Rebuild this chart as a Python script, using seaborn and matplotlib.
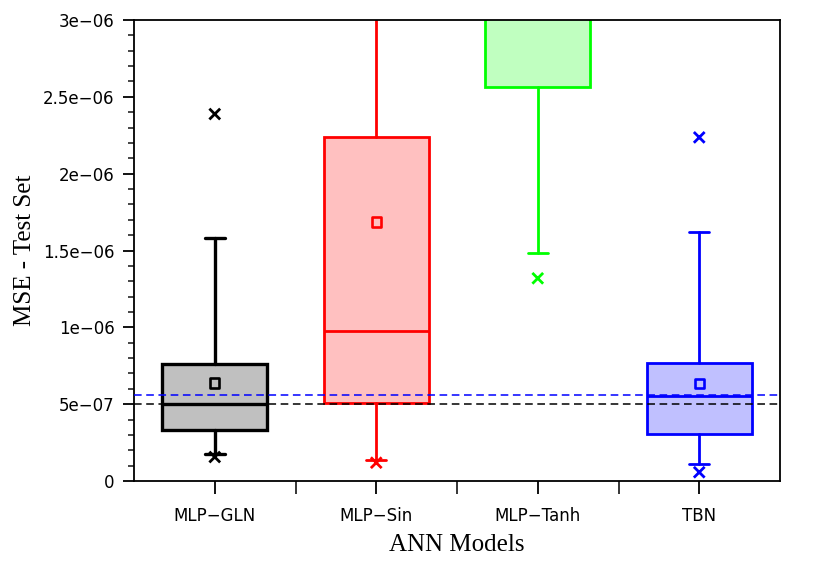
import numpy as np
import pandas as pd
import matplotlib.pyplot as plt
from matplotlib.ticker import AutoMinorLocator, FixedLocator
import seaborn as sns

# Box statistics (values above 3e-06 are hidden, estimated)
models = ['MLP−GLN', 'MLP−Sin', 'MLP−Tanh', 'TBN']
q1 = [0.332e-6, 0.505e-6, 2.566e-6, 0.306e-6]
medians = [0.501e-6, 0.976e-6, 3.60e-6, 0.555e-6]
q3 = [0.761e-6, 2.238e-6, 4.50e-6, 0.766e-6]
whis_lo = [0.176e-6, 0.137e-6, 1.482e-6, 0.111e-6]
whis_hi = [1.581e-6, 4.80e-6, 6.00e-6, 1.618e-6]
means = [0.638e-6, 1.685e-6, 3.90e-6, 0.636e-6]
mins = [0.156e-6, 0.119e-6, 1.319e-6, 0.057e-6]
maxs = [2.388e-6, 6.20e-6, 7.20e-6, 2.236e-6]

edge_colors = ['#000000', '#ff0000', '#00ff00', '#0000ff']
fill_colors = ['#c0c0c0', '#ffc0c0', '#c0ffc0', '#c0c0ff']

# reference dashed lines (GLN median, TBN median)
ref_values = [0.500e-6, 0.5595e-6]
ref_colors = ['#000000', '#0000ff']

ytick_vals = [0, 5e-7, 1e-6, 1.5e-6, 2e-6, 2.5e-6, 3e-6]
ytick_labels = ['0', '5e−07', '1e−06', '1.5e−06', '2e−06', '2.5e−06', '3e−06']

sns.set_theme(style='ticks')
plt.rcParams['font.family'] = ['DejaVu Sans']
plt.rcParams['axes.edgecolor'] = 'black'
plt.rcParams['axes.labelcolor'] = 'black'
plt.rcParams['text.color'] = 'black'
plt.rcParams['axes.linewidth'] = 1.3

fig = plt.figure(figsize=(8.3, 5.76), dpi=100)
ax = fig.add_axes([134 / 830, 95 / 576, 646 / 830, 461 / 576])

pos = np.arange(len(models))
for i in range(len(models)):
    stats = [dict(med=medians[i], q1=q1[i], q3=q3[i], whislo=whis_lo[i],
                  whishi=whis_hi[i], fliers=[])]
    lw = 2.4 if i == 0 else 2.0
    ax.bxp(stats, positions=[pos[i]], widths=0.65, capwidths=0.125,
           patch_artist=True, showfliers=False,
           boxprops=dict(facecolor=fill_colors[i], edgecolor=edge_colors[i], linewidth=lw),
           medianprops=dict(color=edge_colors[i], linewidth=lw),
           whiskerprops=dict(color=edge_colors[i], linewidth=lw),
           capprops=dict(color=edge_colors[i], linewidth=lw),
           manage_ticks=False)

for v, c in zip(ref_values, ref_colors):
    ax.axhline(v, color=c, linestyle=(0, (5, 3)), linewidth=1.1, zorder=4)

extremes = pd.DataFrame({
    'pos': np.concatenate([pos, pos]),
    'value': mins + maxs,
    'model': models + models,
})
sns.scatterplot(data=extremes, x='pos', y='value', hue='model', palette=edge_colors,
                marker='x', s=60, linewidth=2.0, legend=False, ax=ax, zorder=5)

mean_df = pd.DataFrame({'pos': pos, 'value': means, 'model': models})
sns.scatterplot(data=mean_df, x='pos', y='value', hue='model', palette=edge_colors,
                marker='s', s=45, legend=False, ax=ax, zorder=5)
sq = ax.collections[-1]
sq.set_edgecolors(sq.get_facecolors())
sq.set_facecolors('none')
sq.set_linewidths(1.9)

ax.set_xlim(-0.5, 3.5)
ax.set_ylim(0, 3e-6)
ax.set_xticks(pos)
ax.set_xticklabels(models)
ax.xaxis.set_minor_locator(FixedLocator([0.5, 1.5, 2.5]))
ax.set_yticks(ytick_vals)
ax.set_yticklabels(ytick_labels)
ax.yaxis.set_minor_locator(AutoMinorLocator(5))

ax.tick_params(axis='both', which='major', labelsize=12, colors='black', width=1.3)
ax.tick_params(axis='y', which='major', length=8, pad=6)
ax.tick_params(axis='y', which='minor', length=4, width=1.2, left=True)
ax.tick_params(axis='x', which='major', length=9, pad=10)
ax.tick_params(axis='x', which='minor', length=9, width=1.3, bottom=True)

ax.set_xlabel('ANN Models', fontsize=18, family='Liberation Serif')
ax.set_ylabel('MSE - Test Set', fontsize=18, family='Liberation Serif')
ax.xaxis.set_label_coords(0.5, -0.115)
ax.yaxis.set_label_coords(-0.152, 0.5)

fig.savefig('out.png', dpi=100)
